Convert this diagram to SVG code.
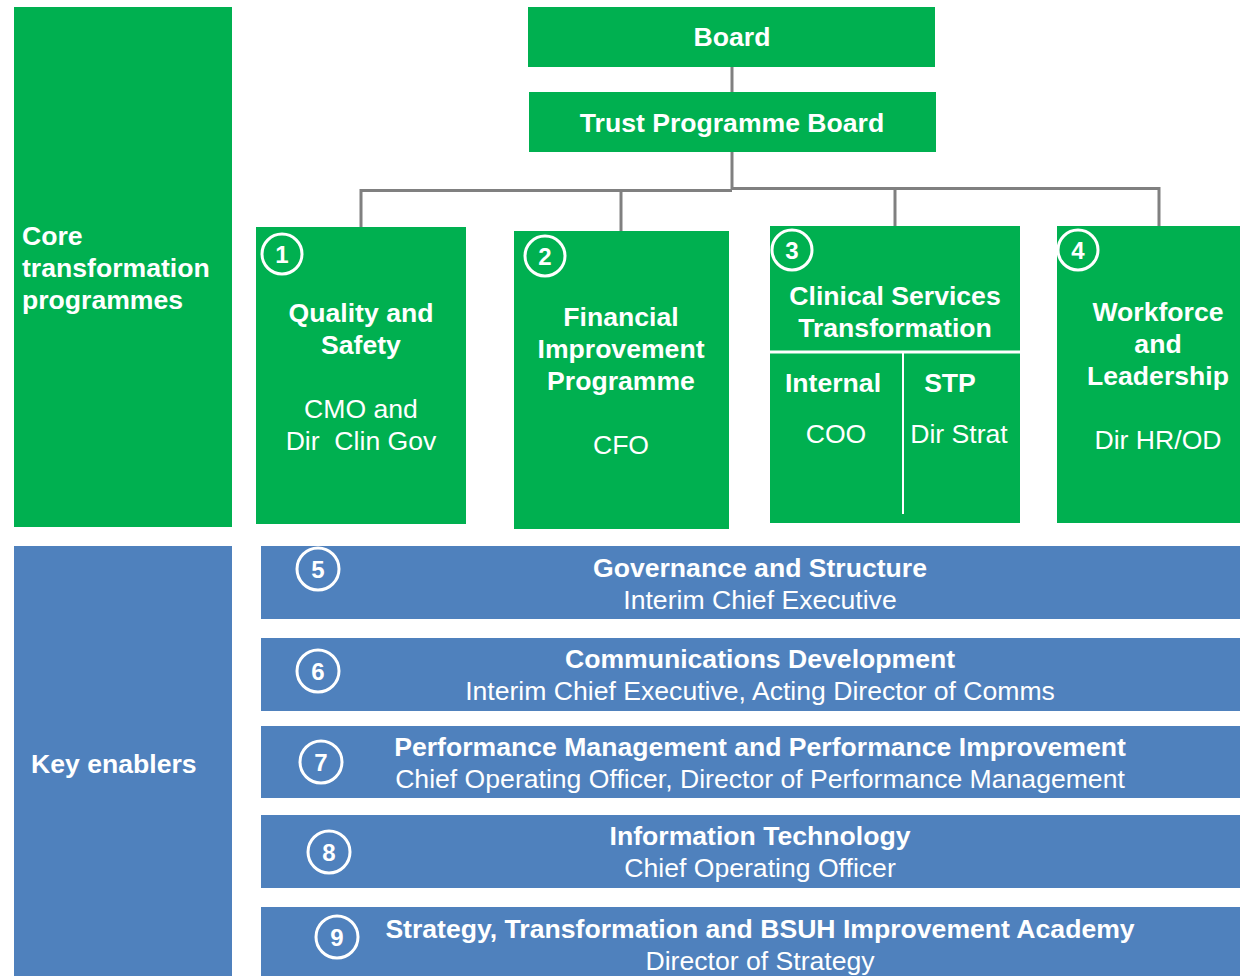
<svg xmlns="http://www.w3.org/2000/svg" width="1240" height="976" viewBox="0 0 1240 976">
<style>
.g{fill:#00B050}
.b{fill:#4F81BD}
text{font-family:"Liberation Sans",Arial,sans-serif;font-size:26.6px;fill:#fff}
.bd{font-weight:bold}
.c{text-anchor:middle}
.circ{fill:none;stroke:#fff;stroke-width:3}
.num{font-size:24px;font-weight:bold;text-anchor:middle}
.conn{stroke:#808080;stroke-width:3;fill:none}
</style>
<rect width="1240" height="976" fill="#fff"/>
<g id="connectors">
<line class="conn" x1="732" y1="67" x2="732" y2="92"/>
<line class="conn" x1="732" y1="152" x2="732" y2="190"/>
<polyline class="conn" points="361,227 361,190.5 732,190.5"/>
<polyline class="conn" points="732,188.5 1159,188.5 1159,226"/>
<line class="conn" x1="621" y1="190" x2="621" y2="231"/>
<line class="conn" x1="895" y1="188" x2="895" y2="226"/>
</g>
<g id="core">
<rect class="g" x="14" y="7" width="218" height="520"/>
<text class="bd" x="22" y="245">Core</text>
<text class="bd" x="22" y="277">transformation</text>
<text class="bd" x="22" y="309">programmes</text>
</g>
<g id="board">
<rect class="g" x="528" y="7" width="407" height="60"/>
<text class="bd c" x="732" y="46">Board</text>
</g>
<g id="tpb">
<rect class="g" x="529" y="92" width="407" height="60"/>
<text class="bd c" x="732" y="132">Trust Programme Board</text>
</g>
<g id="p1">
<rect class="g" x="256" y="227" width="210" height="297"/>
<circle class="circ" cx="282" cy="254" r="20"/>
<text class="num" x="282" y="263">1</text>
<text class="bd c" x="361" y="322">Quality and</text>
<text class="bd c" x="361" y="354">Safety</text>
<text class="c" x="361" y="418">CMO and</text>
<text class="c" x="361" y="450" xml:space="preserve">Dir  Clin Gov</text>
</g>
<g id="p2">
<rect class="g" x="514" y="231" width="215" height="298"/>
<circle class="circ" cx="545" cy="256" r="20"/>
<text class="num" x="545" y="265">2</text>
<text class="bd c" x="621" y="326">Financial</text>
<text class="bd c" x="621" y="358">Improvement</text>
<text class="bd c" x="621" y="390">Programme</text>
<text class="c" x="621" y="454">CFO</text>
</g>
<g id="p3">
<rect class="g" x="770" y="226" width="250" height="297"/>
<circle class="circ" cx="792" cy="250" r="20"/>
<text class="num" x="792" y="259">3</text>
<text class="bd c" x="895" y="305">Clinical Services</text>
<text class="bd c" x="895" y="337">Transformation</text>
<line x1="770" y1="352" x2="1020" y2="352" stroke="#fff" stroke-width="3"/>
<line x1="903" y1="352" x2="903" y2="514" stroke="#fff" stroke-width="2"/>
<text class="bd c" x="833" y="392">Internal</text>
<text class="bd c" x="950" y="392">STP</text>
<text class="c" x="836" y="443">COO</text>
<text class="c" x="959" y="443">Dir Strat</text>
</g>
<g id="p4">
<rect class="g" x="1057" y="226" width="183" height="297"/>
<circle class="circ" cx="1078" cy="250" r="20"/>
<text class="num" x="1078" y="259">4</text>
<text class="bd c" x="1158" y="321">Workforce</text>
<text class="bd c" x="1158" y="353">and</text>
<text class="bd c" x="1158" y="385">Leadership</text>
<text class="c" x="1158" y="449">Dir HR/OD</text>
</g>
<g id="enablers">
<rect class="b" x="14" y="546" width="218" height="430"/>
<text class="bd" x="31" y="773">Key enablers</text>
</g>
<g id="e5">
<rect class="b" x="261" y="546" width="979" height="73"/>
<circle class="circ" cx="318" cy="569" r="21"/>
<text class="num" x="318" y="578">5</text>
<text class="bd c" x="760" y="577">Governance and Structure</text>
<text class="c" x="760" y="609">Interim Chief Executive</text>
</g>
<g id="e6">
<rect class="b" x="261" y="638" width="979" height="73"/>
<circle class="circ" cx="318" cy="671" r="21"/>
<text class="num" x="318" y="680">6</text>
<text class="bd c" x="760" y="668">Communications Development</text>
<text class="c" x="760" y="700">Interim Chief Executive, Acting Director of Comms</text>
</g>
<g id="e7">
<rect class="b" x="261" y="726" width="979" height="72"/>
<circle class="circ" cx="321" cy="762" r="21"/>
<text class="num" x="321" y="771">7</text>
<text class="bd c" x="760" y="756">Performance Management and Performance Improvement</text>
<text class="c" x="760" y="788">Chief Operating Officer, Director of Performance Management</text>
</g>
<g id="e8">
<rect class="b" x="261" y="815" width="979" height="73"/>
<circle class="circ" cx="329" cy="852" r="21"/>
<text class="num" x="329" y="861">8</text>
<text class="bd c" x="760" y="845">Information Technology</text>
<text class="c" x="760" y="877">Chief Operating Officer</text>
</g>
<g id="e9">
<rect class="b" x="261" y="907" width="979" height="69"/>
<circle class="circ" cx="337" cy="937" r="21"/>
<text class="num" x="337" y="946">9</text>
<text class="bd c" x="760" y="938">Strategy, Transformation and BSUH Improvement Academy</text>
<text class="c" x="760" y="970">Director of Strategy</text>
</g>
</svg>
